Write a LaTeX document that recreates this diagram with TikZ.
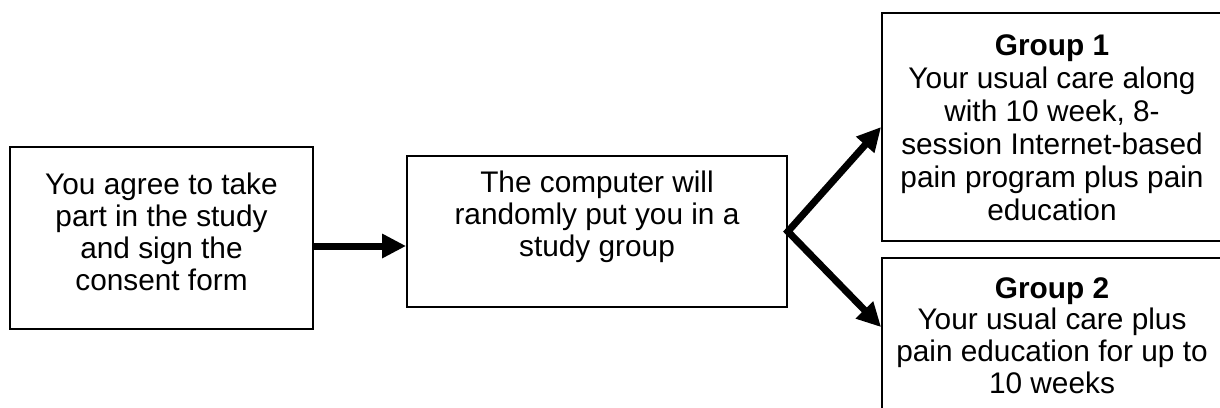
\documentclass[tikz,border=0pt]{standalone}
\usepackage{fontspec}
\setmainfont{Liberation Sans}
\usetikzlibrary{arrows.meta,calc}
\begin{document}
\begin{tikzpicture}[x=1pt,y=-1pt,
 box/.style={draw=black, line width=1.8pt, inner sep=0pt},
 txt/.style={align=center, inner sep=0pt, anchor=north, font=\fontsize{29.8}{31.8}\selectfont},
 arr/.style={line width=7pt, -{Triangle[length=24pt,width=23pt]}},
]
\useasboundingbox (0,0) rectangle (1220,407);
\node[box, minimum width=303pt, minimum height=182pt] (b1) at (161.5,238) {};
\node[box, minimum width=380pt, minimum height=151pt] (b2) at (597,231.5) {};
\node[box, minimum width=340pt, minimum height=228pt] (b3) at (1052,127) {};
\node[box, minimum width=340pt, minimum height=172pt] (b4) at (1052,344) {};
\node[txt] (t1) at (161.5,173) {You agree to take\\part in the study\\and sign the\\consent form};
\node[txt] (t2) at (597,171) {The computer will\\randomly put you in a\\study group};
\node[txt, font=\fontsize{29.8}{33}\selectfont] (t3) at (1052,34) {\textbf{Group 1}\\Your usual care along\\with 10 week, 8-\\session Internet-based\\pain program plus pain\\education};
\node[txt] (t4) at (1052,277) {\textbf{Group 2}\\Your usual care plus\\pain education for up to\\10 weeks};
\coordinate (a4) at ($(b4.north west)+(0,70)$);
\draw[arr] ($(b1.east)+(0,8)$) -- ($(b2.west)+(0,14.5)$);
\draw[line width=7pt, line join=miter, {Triangle[length=24pt,width=23pt]}-{Triangle[length=24pt,width=23pt]}] (b3.west) -- (b2.east) -- (a4);
\end{tikzpicture}
\end{document}
